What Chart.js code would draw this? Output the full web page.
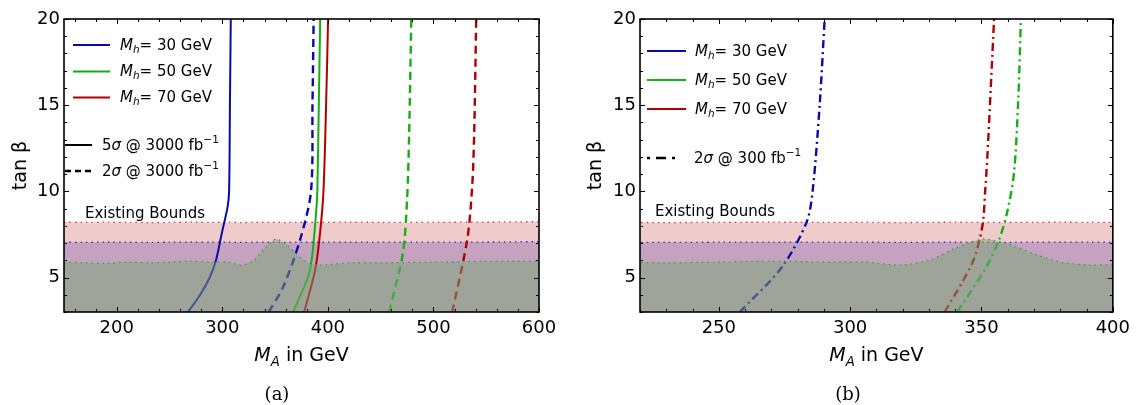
<!DOCTYPE html>
<html>
<head>
<meta charset="utf-8">
<script src="https://cdn.jsdelivr.net/npm/chart.js@4.4.1/dist/chart.umd.min.js"></script>
<style>
  html, body { margin: 0; padding: 0; background: #fff; }
  #wrap { position: relative; width: 1136px; height: 405px; }
  .panel { position: absolute; top: 0; width: 568px; height: 405px; }
</style>
</head>
<body>
<div id="wrap">
  <div class="panel" style="left:0"><canvas id="chartA" width="568" height="405"></canvas></div>
  <div class="panel" style="left:568px"><canvas id="chartB" width="568" height="405"></canvas></div>
</div>
<script>
// tick labels
const xTicksA = [200, 300, 400, 500, 600];
const xTicksB = [250, 300, 350, 400];
const yTicks = [5, 10, 15, 20];

// existing bounds (upper edges of the shaded regions)
const boundMA    = [150, 170, 190, 210, 230, 250, 270, 290, 305, 319, 330, 340, 345, 351, 360, 363, 370, 380, 391, 400, 420, 450, 500, 550, 600];
const redBound   = [8.22, 8.2, 8.21, 8.2, 8.19, 8.2, 8.21, 8.2, 8.2, 8.19, 8.2, 8.21, 8.2, 8.2, 8.19, 8.2, 8.2, 8.21, 8.2, 8.2, 8.22, 8.2, 8.2, 8.22, 8.24];
const purpleBound= [7.05, 7.04, 7.06, 7.05, 7.04, 7.05, 7.06, 7.05, 7.05, 7.04, 7.05, 7.06, 7.05, 7.05, 7.04, 7.05, 7.05, 7.06, 7.05, 7.05, 7.06, 7.05, 7.05, 7.06, 7.08];
const greenBound = [5.9, 5.85, 5.82, 5.9, 5.85, 5.9, 5.95, 5.9, 5.9, 5.73, 6.0, 6.7, 7.0, 7.24, 6.95, 6.8, 6.37, 5.9, 5.73, 5.75, 5.85, 5.85, 5.9, 5.95, 5.95];

// (a) 3000 fb^-1
const mh30_5s_MA = [267.5, 279, 288, 294, 299.6, 305, 306.4, 307.2, 308];
const mh30_5s_tb = [3, 4, 5, 6, 7.6, 9.1, 10, 15, 20];
const mh50_5s_MA = [367, 381, 385, 389, 390, 391.4, 392.7];
const mh50_5s_tb = [3, 5, 6.2, 8.9, 10, 15, 20];
const mh70_5s_MA = [377.5, 388, 392.6, 395.8, 398.3, 400.2];
const mh70_5s_tb = [3, 5.45, 7.6, 10, 15, 20];
const mh30_2s_MA = [344, 357.6, 373.7, 384, 385.4, 386.5];
const mh30_2s_tb = [3, 4.45, 7.2, 10, 15, 20];
const mh50_2s_MA = [458, 471, 475, 477, 479];
const mh50_2s_tb = [3, 6.4, 9.5, 13.4, 20];
const mh70_2s_MA = [517.8, 532, 536.7, 538.6, 540.5];
const mh70_2s_tb = [3, 7.2, 10.3, 13.4, 20];

// (b) 300 fb^-1
const mh30_300_MA = [258, 274, 283.4, 285.7, 288.4, 290.3];
const mh30_300_tb = [3, 5.6, 8.2, 10, 15, 20];
const mh50_300_MA = [340.8, 351.8, 356.7, 359.8, 362.4, 364, 365];
const mh50_300_tb = [3, 5.6, 7.2, 8.8, 11.1, 15.3, 20];
const mh70_300_MA = [336, 346.5, 350.3, 351.4, 352.3, 354.8];
const mh70_300_tb = [3, 5.85, 7.95, 10, 12.2, 20];

const BLUE = '#0a0aa8', GREEN = '#12b012', RED = '#b00000';
const FONT = '"DejaVu Sans", sans-serif';
const DASH = [8, 5], DASHDOT = [8, 4, 2, 4];

function pts(xs, ys) { return xs.map((x, i) => ({ x: x, y: ys[i] })); }

function curve(xs, ys, color, dash) {
  return {
    data: pts(xs, ys), showLine: true, pointRadius: 0, borderColor: color,
    borderWidth: dash.length ? 2.4 : 2, borderDash: dash, fill: false, tension: 0.3, order: 5
  };
}

function bands() {
  return [
    { data: pts(boundMA, redBound), showLine: true, pointRadius: 0, borderColor: '#d83a3a', borderWidth: 1.3,
      borderDash: [1.5, 4], backgroundColor: '#efcbcb', fill: 'start', tension: 0.3, order: 10, clip: 0 },
    { data: pts(boundMA, purpleBound), showLine: true, pointRadius: 0, borderColor: '#3a20b8', borderWidth: 1.3,
      borderDash: [1.5, 4], backgroundColor: '#c5a3c0', fill: 'start', tension: 0.3, order: 9, clip: 0 },
    { data: pts(boundMA, greenBound), showLine: true, pointRadius: 0, borderColor: '#2aaa2a', borderWidth: 1.3,
      borderDash: [1.5, 4], backgroundColor: 'rgba(120,166,116,0.5)', fill: 'start', tension: 0.3, order: 1, clip: 0 }
  ];
}

// draws text made of parts (italic, sub, sup)
function richWidth(ctx, parts, size) {
  let w = 0;
  parts.forEach(p => {
    const s = (p.sub || p.sup) ? size * 0.7 : size;
    ctx.font = (p.it ? 'italic ' : '') + s + 'px ' + FONT;
    w += ctx.measureText(p.t).width;
  });
  return w;
}
function drawRich(ctx, x, y, parts, size) {
  let cx = x;
  parts.forEach(p => {
    const s = (p.sub || p.sup) ? size * 0.7 : size;
    ctx.font = (p.it ? 'italic ' : '') + s + 'px ' + FONT;
    const dy = p.sub ? size * 0.28 : (p.sup ? -size * 0.38 : 0);
    ctx.fillText(p.t, cx, y + dy);
    cx += ctx.measureText(p.t).width;
  });
}
const mhText = v => [{ t: 'M', it: 1 }, { t: 'h', it: 1, sub: 1 }, { t: '= ' + v + ' GeV' }];
const sigText = (n, lum) => [{ t: n }, { t: 'σ', it: 1 }, { t: ' @ ' + lum + ' fb' }, { t: '−1', sup: 1 }];

const decoPlugin = {
  id: 'deco',
  afterDraw(chart, args, o) {
    const { ctx, chartArea: a, scales: { x, y } } = chart;
    ctx.save();
    ctx.strokeStyle = '#000';
    ctx.lineWidth = 1;
    ctx.setLineDash([]);
    ctx.beginPath();
    for (let v = Math.ceil(x.min / o.minorX) * o.minorX; v <= x.max; v += o.minorX) {
      const p = Math.round(x.getPixelForValue(v)) + 0.5;
      const len = v % o.majorX === 0 ? 5 : 3;
      ctx.moveTo(p, a.bottom); ctx.lineTo(p, a.bottom - len);
      ctx.moveTo(p, a.top); ctx.lineTo(p, a.top + len);
    }
    for (let v = Math.ceil(y.min); v <= y.max; v += 1) {
      const p = Math.round(y.getPixelForValue(v)) + 0.5;
      const len = v % 5 === 0 ? 5 : 3;
      ctx.moveTo(a.left, p); ctx.lineTo(a.left + len, p);
      ctx.moveTo(a.right, p); ctx.lineTo(a.right - len, p);
    }
    ctx.stroke();
    ctx.lineWidth = 1.6;
    ctx.strokeRect(a.left, a.top, a.right - a.left, a.bottom - a.top);

    // legend
    ctx.fillStyle = '#000';
    ctx.textBaseline = 'middle';
    ctx.textAlign = 'left';
    o.legend.forEach(e => {
      ctx.strokeStyle = e.color;
      ctx.lineWidth = e.dash.length ? 2.4 : 2;
      ctx.setLineDash(e.dash);
      ctx.beginPath();
      ctx.moveTo(a.left + e.x0, e.y); ctx.lineTo(a.left + e.x1, e.y);
      ctx.stroke();
      ctx.setLineDash([]);
      drawRich(ctx, a.left + e.tx, e.y + 1, e.parts, 15);
    });
    ctx.font = '15px ' + FONT;
    ctx.fillText('Existing Bounds', a.left + o.boundsX, o.boundsY);

    // x axis title
    ctx.textBaseline = 'alphabetic';
    const title = [{ t: 'M', it: 1 }, { t: 'A', it: 1, sub: 1 }, { t: ' in GeV' }];
    const w = richWidth(ctx, title, 19);
    drawRich(ctx, (a.left + a.right) / 2 - w / 2, 361, title, 19);

    // caption
    ctx.font = '18px "DejaVu Serif", serif';
    ctx.textAlign = 'center';
    ctx.fillText(o.caption, o.captionX, 400);
    ctx.restore();
  }
};

function makeChart(id, cfg) {
  return new Chart(document.getElementById(id), {
    type: 'scatter',
    data: { datasets: cfg.datasets },
    options: {
      responsive: false,
      animation: false,
      events: [],
      layout: { padding: { top: 19, right: cfg.padRight, left: 0, bottom: 0 } },
      plugins: { legend: { display: false }, tooltip: { enabled: false }, deco: cfg.deco },
      scales: {
        x: {
          type: 'linear', min: cfg.xMin, max: cfg.xMax,
          grid: { display: false, drawTicks: false }, border: { display: false },
          afterFit: s => { s.height = 93; },
          afterBuildTicks: s => { s.ticks = cfg.xTicks.map(v => ({ value: v })); },
          ticks: { font: { family: FONT, size: 18 }, color: '#000', padding: 6, maxRotation: 0, autoSkip: false }
        },
        y: {
          type: 'linear', min: 3, max: 20,
          grid: { display: false, drawTicks: false }, border: { display: false },
          afterFit: s => { s.width = cfg.yWidth; },
          afterBuildTicks: s => { s.ticks = yTicks.map(v => ({ value: v })); },
          ticks: { font: { family: FONT, size: 18 }, color: '#000', padding: 4 },
          title: { display: true, text: 'tan β', font: { family: FONT, size: 19 }, color: '#000', padding: { top: cfg.yTitlePad, bottom: 0 } }
        }
      }
    },
    plugins: [decoPlugin]
  });
}

makeChart('chartA', {
  xMin: 150, xMax: 600, xTicks: xTicksA, padRight: 29, yWidth: 64, yTitlePad: 10,
  datasets: bands().concat([
    curve(mh30_5s_MA, mh30_5s_tb, BLUE, []),
    curve(mh50_5s_MA, mh50_5s_tb, GREEN, []),
    curve(mh70_5s_MA, mh70_5s_tb, RED, []),
    curve(mh30_2s_MA, mh30_2s_tb, BLUE, DASH),
    curve(mh50_2s_MA, mh50_2s_tb, GREEN, DASH),
    curve(mh70_2s_MA, mh70_2s_tb, RED, DASH)
  ]),
  deco: {
    minorX: 20, majorX: 100, caption: '(a)', captionX: 277, boundsX: 21, boundsY: 214,
    legend: [
      { y: 45, x0: 9, x1: 46, tx: 56, color: BLUE, dash: [], parts: mhText('30') },
      { y: 71.5, x0: 9, x1: 46, tx: 56, color: GREEN, dash: [], parts: mhText('50') },
      { y: 97.5, x0: 9, x1: 46, tx: 56, color: RED, dash: [], parts: mhText('70') },
      { y: 145, x0: 1, x1: 28, tx: 38, color: '#000', dash: [], parts: sigText('5', '3000') },
      { y: 171, x0: 1, x1: 27, tx: 38, color: '#000', dash: [6, 4], parts: sigText('2', '3000') }
    ]
  }
});

makeChart('chartB', {
  xMin: 220, xMax: 400, xTicks: xTicksB, padRight: 22, yWidth: 72, yTitlePad: 17,
  datasets: bands().concat([
    curve(mh30_300_MA, mh30_300_tb, BLUE, DASHDOT),
    curve(mh50_300_MA, mh50_300_tb, GREEN, DASHDOT),
    curve(mh70_300_MA, mh70_300_tb, RED, DASHDOT)
  ]),
  deco: {
    minorX: 10, majorX: 50, caption: '(b)', captionX: 280, boundsX: 15, boundsY: 212,
    legend: [
      { y: 51, x0: 7, x1: 46, tx: 55, color: BLUE, dash: [], parts: mhText('30') },
      { y: 80, x0: 7, x1: 46, tx: 55, color: GREEN, dash: [], parts: mhText('50') },
      { y: 109, x0: 7, x1: 46, tx: 55, color: RED, dash: [], parts: mhText('70') },
      { y: 158, x0: 7, x1: 38, tx: 54, color: '#000', dash: [3, 6, 10, 6], parts: sigText('2', '300') }
    ]
  }
});
</script>
</body>
</html>
